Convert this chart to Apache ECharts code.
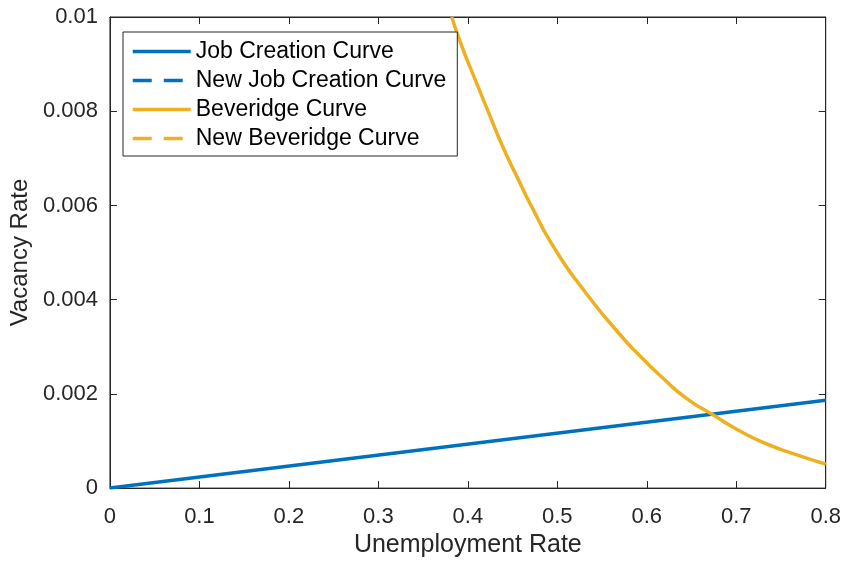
<!DOCTYPE html>
<html>
<head>
<meta charset="utf-8">
<script src="https://cdn.jsdelivr.net/npm/echarts@6/dist/echarts.min.js"></script>
<style>
html,body{margin:0;padding:0;background:#fff;}
#c{width:844px;height:563px;}
</style>
</head>
<body>
<div id="c"></div>
<script>
const seriesNames = ['Job Creation Curve', 'New Job Creation Curve', 'Beveridge Curve', 'New Beveridge Curve'];
const xTicks = [0, 0.1, 0.2, 0.3, 0.4, 0.5, 0.6, 0.7, 0.8];
const yTicks = [0, 0.002, 0.004, 0.006, 0.008, 0.01];
const jobCreation = [[0, 0], [0.8, 0.001864]];
const newJobCreation = [];
const beveridge = [
  [0.382, 0.01000], [0.3941, 0.00934], [0.4089, 0.00864], [0.4237, 0.00795],
  [0.4387, 0.00726], [0.4572, 0.00652], [0.4728, 0.00592], [0.4962, 0.00511],
  [0.5296, 0.00420], [0.5705, 0.00325], [0.5928, 0.00280], [0.6188, 0.00232],
  [0.6448, 0.00190], [0.6744, 0.00155], [0.7005, 0.00125], [0.7301, 0.00097],
  [0.7636, 0.00073], [0.8000, 0.00051]
];
const newBeveridge = [];

const BLUE = '#0072BD', GOLD = '#EDB120', AX = '#262626';
const FONT = 'Liberation Sans, Arial, Helvetica, sans-serif';
const DASH = [19, 12];

function xAxisOpt(pos, labels) {
  const o = {
    type: 'value', position: pos, min: xTicks[0], max: xTicks[xTicks.length - 1], interval: 0.1,
    axisLine: {show: true, onZero: false, lineStyle: {color: AX, width: 1}},
    axisTick: {show: true, inside: true, length: 7, lineStyle: {color: AX, width: 1}},
    splitLine: {show: false},
    axisLabel: {show: labels, margin: 18, fontFamily: FONT, fontSize: 22, color: AX}
  };
  if (labels) {
    o.name = 'Unemployment Rate'; o.nameLocation = 'middle'; o.nameGap = 43;
    o.nameTextStyle = {fontFamily: FONT, fontSize: 25, color: AX, verticalAlign: 'top'};
  }
  return o;
}
function yAxisOpt(pos, labels) {
  const o = {
    type: 'value', position: pos, min: yTicks[0], max: yTicks[yTicks.length - 1], interval: 0.002,
    axisLine: {show: true, onZero: false, lineStyle: {color: AX, width: 1}},
    axisTick: {show: true, inside: true, length: 7, lineStyle: {color: AX, width: 1}},
    splitLine: {show: false},
    axisLabel: {show: labels, margin: 12, fontFamily: FONT, fontSize: 22, color: AX}
  };
  if (labels) {
    o.name = 'Vacancy Rate'; o.nameLocation = 'middle'; o.nameGap = 75;
    o.nameTextStyle = {fontFamily: FONT, fontSize: 24, color: AX};
  }
  return o;
}

const chart = echarts.init(document.getElementById('c'), null, {renderer: 'canvas'});
chart.setOption({
  animation: false,
  backgroundColor: '#fff',
  grid: {left: 108, right: 18, top: 17, bottom: 70, containLabel: false,
         show: true, borderColor: AX, borderWidth: 1, backgroundColor: 'transparent'},
  legend: {
    orient: 'vertical', left: 123, top: 32,
    data: [
      {name: seriesNames[0], lineStyle: {color: BLUE, width: 3.5, type: 'solid'}},
      {name: seriesNames[1], lineStyle: {color: BLUE, width: 3.5, type: DASH}},
      {name: seriesNames[2], lineStyle: {color: GOLD, width: 3.5, type: 'solid'}},
      {name: seriesNames[3], lineStyle: {color: GOLD, width: 3.5, type: DASH}}
    ],
    itemStyle: {opacity: 0},
    itemWidth: 58, itemHeight: 20, itemGap: 4,
    padding: [7, 11, 5, 8],
    borderColor: AX, borderWidth: 1, backgroundColor: '#fff',
    textStyle: {fontFamily: FONT, fontSize: 23, color: '#000', lineHeight: 25},
    selectedMode: false
  },
  xAxis: [xAxisOpt('bottom', true), xAxisOpt('top', false)],
  yAxis: [yAxisOpt('left', true), yAxisOpt('right', false)],
  series: [
    {name: seriesNames[0], type: 'line', data: jobCreation, symbol: 'none', showSymbol: false, color: BLUE,
     lineStyle: {color: BLUE, width: 3.5}, xAxisIndex: 0, yAxisIndex: 0},
    {name: seriesNames[1], type: 'line', data: newJobCreation, symbol: 'none', showSymbol: false, color: BLUE,
     lineStyle: {color: BLUE, width: 3.5, type: DASH}, xAxisIndex: 0, yAxisIndex: 0},
    {name: seriesNames[2], type: 'line', data: beveridge, symbol: 'none', showSymbol: false, color: GOLD,
     smooth: 0.6,
     lineStyle: {color: GOLD, width: 3.5}, xAxisIndex: 0, yAxisIndex: 0, clip: true},
    {name: seriesNames[3], type: 'line', data: newBeveridge, symbol: 'none', showSymbol: false, color: GOLD,
     lineStyle: {color: GOLD, width: 3.5, type: DASH}, xAxisIndex: 0, yAxisIndex: 0},
    {type: 'line', data: [], xAxisIndex: 1, yAxisIndex: 1, symbol: 'none', silent: true}
  ]
});
</script>
</body>
</html>
